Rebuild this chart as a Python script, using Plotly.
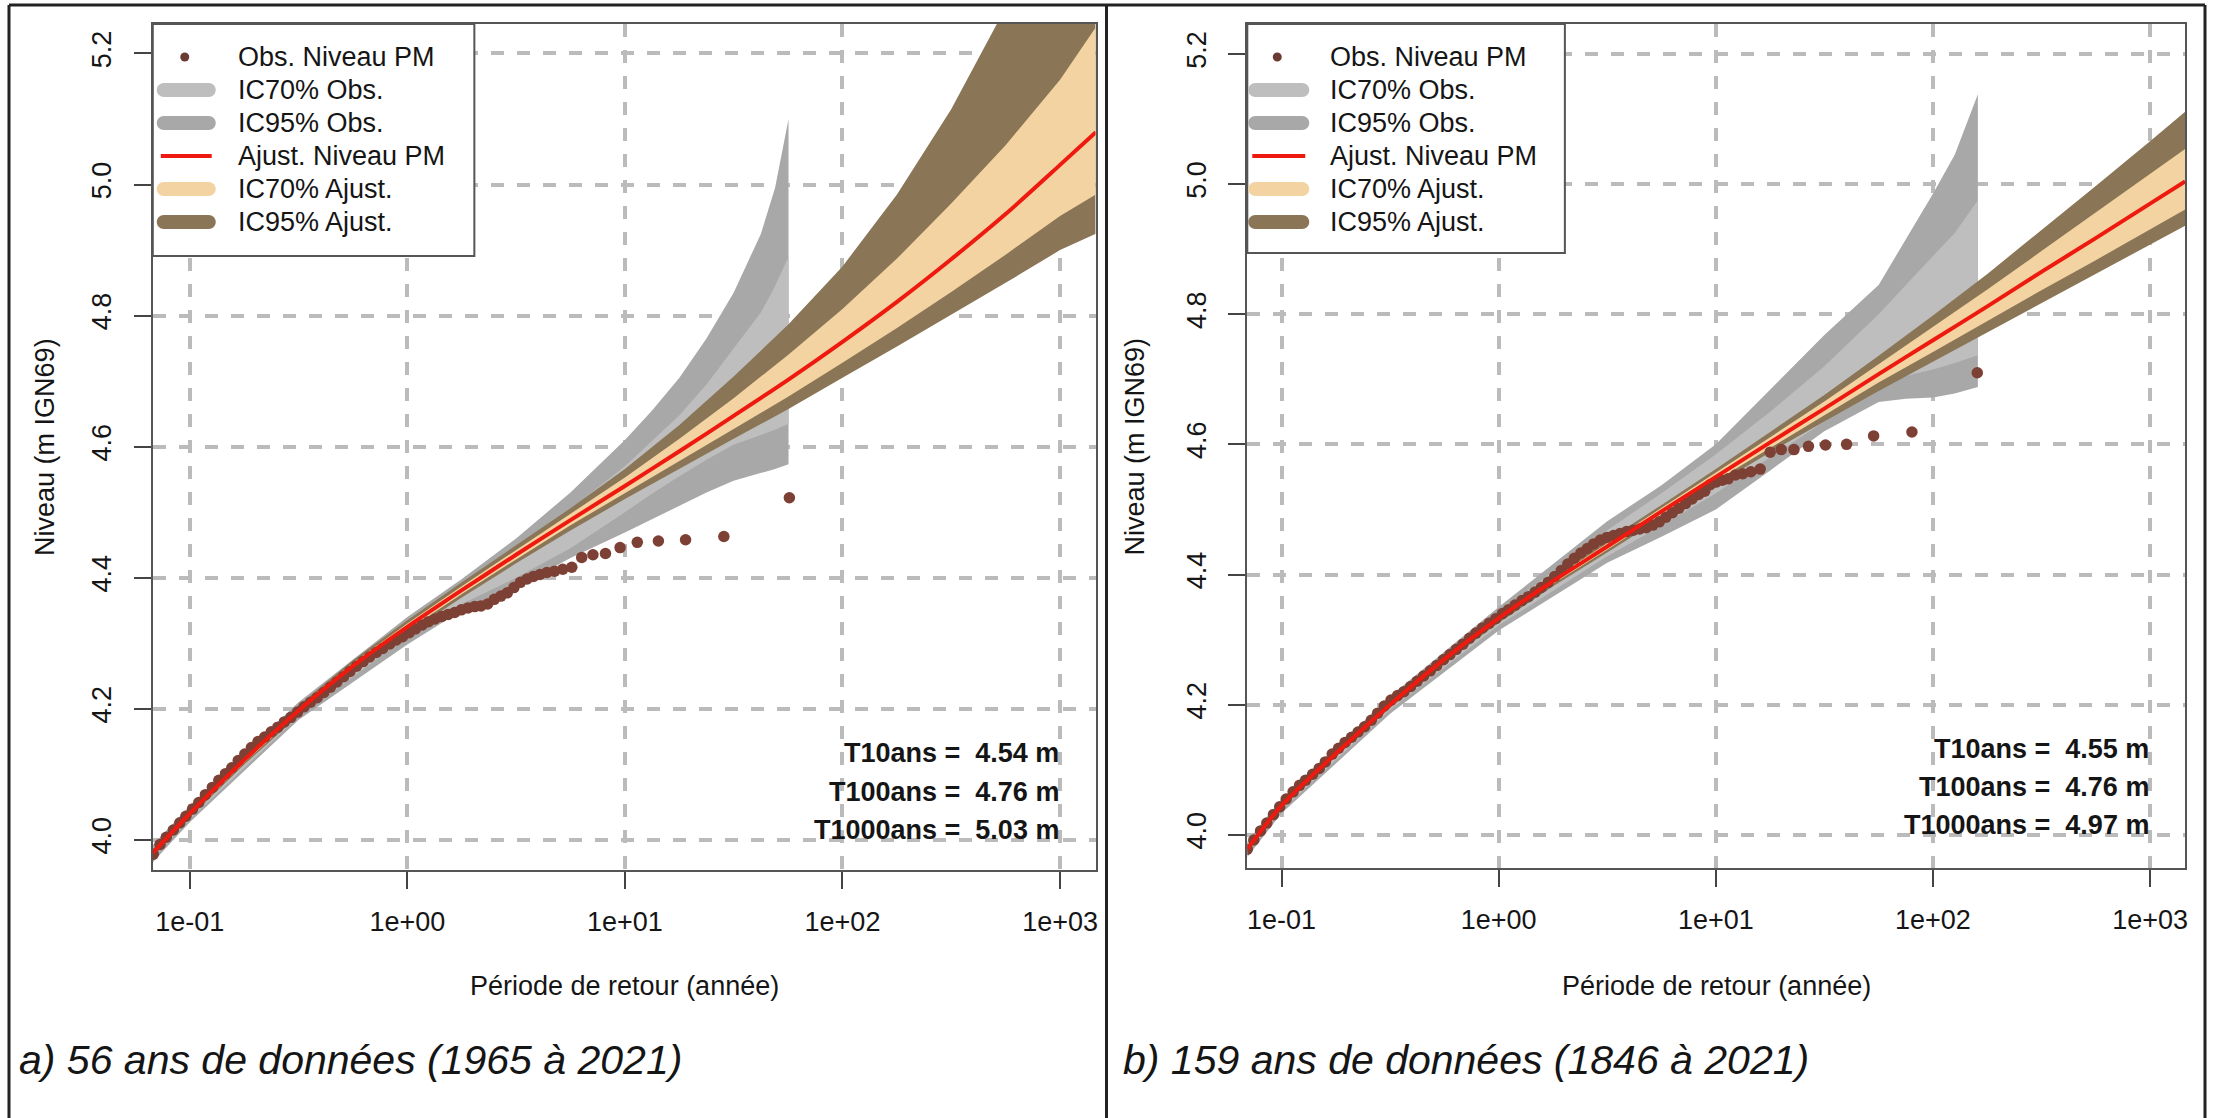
import plotly.graph_objects as go

W, H = 2214, 1118
FONT = "Liberation Sans, Arial, Helvetica, sans-serif"

# ---------------------------------------------------------------- axes
period_ticks = [0.1, 1, 10, 100, 1000]
period_tick_text = ["1e-01", "1e+00", "1e+01", "1e+02", "1e+03"]
level_ticks = [4.0, 4.2, 4.4, 4.6, 4.8, 5.0, 5.2]
level_tick_text = ["4.0", "4.2", "4.4", "4.6", "4.8", "5.0", "5.2"]

legend_labels = ["Obs. Niveau PM", "IC70% Obs.", "IC95% Obs.",
                 "Ajust. Niveau PM", "IC70% Ajust.", "IC95% Ajust."]
return_periods = [10, 100, 1000]

# ------------------------------------------- a) 56 ans (1965 a 2021)
a_obs_period = [
    0.068, 0.073, 0.078, 0.084, 0.090, 0.096, 0.103, 0.110, 0.118, 0.127,
    0.136, 0.146, 0.156, 0.167, 0.179, 0.192, 0.206, 0.221, 0.237, 0.254,
    0.272, 0.292, 0.313, 0.335, 0.359, 0.385, 0.413, 0.443, 0.475, 0.509,
    0.545, 0.584, 0.626, 0.671, 0.72, 0.77, 0.83, 0.89, 0.95, 1.02,
    1.09, 1.17, 1.25, 1.34, 1.44, 1.54, 1.65, 1.77, 1.90, 2.04,
    2.18, 2.34, 2.51, 2.69, 2.88, 3.09, 3.31, 3.55, 3.80, 4.07,
    4.38, 4.75, 5.18, 5.70, 6.33, 7.13, 8.14, 9.50, 11.4, 14.25,
    19.0, 28.5, 57.0]
a_obs_level = [
    3.978, 3.993, 4.004, 4.015, 4.026, 4.036, 4.047, 4.057, 4.069, 4.080,
    4.091, 4.101, 4.110, 4.121, 4.131, 4.141, 4.150, 4.157, 4.165, 4.172,
    4.180, 4.187, 4.195, 4.203, 4.210, 4.217, 4.225, 4.233, 4.241, 4.249,
    4.257, 4.265, 4.272, 4.279, 4.286, 4.292, 4.299, 4.305, 4.310, 4.316,
    4.322, 4.328, 4.333, 4.337, 4.341, 4.344, 4.347, 4.351, 4.354, 4.356,
    4.357, 4.360, 4.367, 4.372, 4.377, 4.385, 4.393, 4.398, 4.402, 4.405,
    4.408, 4.410, 4.413, 4.416, 4.431, 4.435, 4.437, 4.446, 4.454, 4.456,
    4.458, 4.463, 4.522]

a_fit_period = [0.0676, 0.1, 0.178, 0.316, 0.562, 1, 1.78, 3.16, 5.62, 10,
                17.8, 31.6, 56.2, 100, 178, 316, 562, 1000, 1460]
a_fit_level = [3.980, 4.040, 4.122, 4.197, 4.265, 4.325, 4.381, 4.435, 4.488, 4.540,
               4.593, 4.647, 4.702, 4.760, 4.821, 4.886, 4.955, 5.030, 5.080]
a_fit95_hi = [3.986, 4.046, 4.129, 4.205, 4.274, 4.335, 4.393, 4.449, 4.506, 4.566,
              4.633, 4.707, 4.786, 4.875, 4.985, 5.115, 5.270, 5.440, 5.560]
a_fit95_lo = [3.974, 4.034, 4.115, 4.189, 4.256, 4.315, 4.370, 4.422, 4.472, 4.520,
              4.566, 4.612, 4.657, 4.705, 4.753, 4.801, 4.850, 4.900, 4.925]
a_fit70_hi = [3.983, 4.043, 4.126, 4.201, 4.270, 4.330, 4.387, 4.442, 4.497, 4.553,
              4.612, 4.674, 4.740, 4.810, 4.887, 4.971, 5.060, 5.160, 5.240]
a_fit70_lo = [3.977, 4.037, 4.118, 4.193, 4.260, 4.320, 4.375, 4.428, 4.480, 4.529,
              4.578, 4.627, 4.676, 4.728, 4.781, 4.836, 4.893, 4.952, 4.985]

a_ci_period = [0.0676, 0.1, 0.316, 1, 1.78, 3.16, 5.62, 10, 13.3, 17.8, 23.7,
               31.6, 42.2, 49.0, 56.5]
a_obs95_hi = [3.992, 4.052, 4.210, 4.340, 4.398, 4.460, 4.530, 4.610, 4.655, 4.705,
              4.765, 4.835, 4.925, 4.995, 5.100]
a_obs70_hi = [3.987, 4.047, 4.205, 4.333, 4.390, 4.447, 4.505, 4.570, 4.608, 4.648,
              4.695, 4.750, 4.805, 4.845, 4.890]
a_obs70_lo = [3.972, 4.032, 4.188, 4.310, 4.360, 4.400, 4.445, 4.500, 4.528, 4.555,
              4.580, 4.603, 4.618, 4.626, 4.635]
a_obs95_lo = [3.966, 4.027, 4.183, 4.298, 4.350, 4.385, 4.430, 4.469, 4.490, 4.510,
              4.530, 4.548, 4.560, 4.566, 4.573]

a_return_levels = [4.54, 4.76, 5.03]
a_caption = "a) 56 ans de données (1965 à 2021)"

# ------------------------------------------ b) 159 ans (1846 a 2021)
b_obs_period = [
    0.0695, 0.0745, 0.080, 0.0855, 0.0917, 0.098, 0.105, 0.113, 0.121, 0.129,
    0.139, 0.149, 0.159, 0.171, 0.183, 0.196, 0.210, 0.225, 0.241, 0.259,
    0.277, 0.297, 0.319, 0.342, 0.366, 0.393, 0.421, 0.451, 0.484, 0.518,
    0.556, 0.596, 0.638, 0.684, 0.734, 0.786, 0.843, 0.904, 0.969, 1.04,
    1.11, 1.19, 1.28, 1.37, 1.47, 1.57, 1.69, 1.81, 1.94, 2.08,
    2.23, 2.39, 2.56, 2.74, 2.94, 3.15, 3.38, 3.62, 3.88, 4.16,
    4.46, 4.78, 5.12, 5.49, 5.89, 6.31, 6.76, 7.25, 7.77, 8.33,
    8.89, 9.41, 10.0, 10.7, 11.4, 12.3, 13.3, 14.5, 16.0, 17.8,
    20.0, 22.9, 26.7, 32.0, 40.0, 53.3, 80.0, 160.0]
b_obs_level = [
    3.978, 3.992, 4.006, 4.018, 4.031, 4.043, 4.055, 4.066, 4.076, 4.084,
    4.093, 4.102, 4.112, 4.124, 4.133, 4.142, 4.150, 4.158, 4.166, 4.176,
    4.187, 4.198, 4.207, 4.214, 4.220, 4.228, 4.236, 4.244, 4.252, 4.260,
    4.269, 4.277, 4.285, 4.293, 4.302, 4.310, 4.318, 4.325, 4.332, 4.340,
    4.346, 4.353, 4.360, 4.366, 4.373, 4.380, 4.388, 4.397, 4.406, 4.416,
    4.425, 4.433, 4.440, 4.447, 4.453, 4.457, 4.460, 4.463, 4.466, 4.468,
    4.470, 4.472, 4.476, 4.481, 4.488, 4.495, 4.502, 4.509, 4.516, 4.523,
    4.528, 4.538, 4.542, 4.545, 4.547, 4.553, 4.555, 4.558, 4.562, 4.588,
    4.592, 4.592, 4.597, 4.599, 4.600, 4.613, 4.619, 4.710]

b_fit_period = [0.0695, 0.1, 0.178, 0.316, 0.562, 1, 1.78, 3.16, 5.62, 10,
                17.8, 31.6, 56.2, 100, 178, 316, 562, 1000, 1450]
b_fit_level = [3.978, 4.045, 4.125, 4.200, 4.270, 4.333, 4.390, 4.443, 4.497, 4.550,
               4.603, 4.655, 4.708, 4.760, 4.812, 4.865, 4.917, 4.970, 5.004]
b_fit95_hi = [3.982, 4.049, 4.130, 4.205, 4.276, 4.340, 4.398, 4.452, 4.507, 4.562,
              4.619, 4.676, 4.736, 4.798, 4.862, 4.929, 4.997, 5.066, 5.111]
b_fit95_lo = [3.974, 4.041, 4.120, 4.195, 4.264, 4.326, 4.382, 4.434, 4.487, 4.538,
              4.588, 4.635, 4.682, 4.727, 4.772, 4.818, 4.862, 4.907, 4.936]
b_fit70_hi = [3.980, 4.047, 4.128, 4.203, 4.273, 4.337, 4.394, 4.448, 4.502, 4.556,
              4.611, 4.666, 4.723, 4.780, 4.838, 4.897, 4.956, 5.015, 5.054]
b_fit70_lo = [3.976, 4.043, 4.122, 4.197, 4.267, 4.329, 4.386, 4.438, 4.492, 4.544,
              4.595, 4.645, 4.695, 4.742, 4.789, 4.837, 4.883, 4.930, 4.961]

b_ci_period = [0.0695, 0.1, 0.316, 1, 3.16, 5.62, 10, 17.8, 31.6, 56.2, 75, 100, 126, 161]
b_obs95_hi = [3.990, 4.055, 4.213, 4.350, 4.482, 4.537, 4.600, 4.685, 4.768, 4.845,
              4.915, 4.985, 5.045, 5.138]
b_obs70_hi = [3.986, 4.050, 4.207, 4.342, 4.468, 4.525, 4.585, 4.650, 4.720, 4.800,
              4.845, 4.890, 4.925, 4.975]
b_obs70_lo = [3.971, 4.038, 4.192, 4.322, 4.428, 4.475, 4.525, 4.580, 4.635, 4.690,
              4.705, 4.715, 4.725, 4.737]
b_obs95_lo = [3.966, 4.033, 4.186, 4.314, 4.418, 4.458, 4.500, 4.560, 4.620, 4.665,
              4.670, 4.672, 4.678, 4.688]

b_return_levels = [4.55, 4.76, 4.97]
b_caption = "b) 159 ans de données (1846 à 2021)"

# ---------------------------------------------------------------- colours
C_OBS = "#7D4034"
C_OBS70 = "#BEBEBE"
C_OBS95 = "#A8A8A8"
C_FIT = "#EE1A10"
C_FIT70 = "#F3D3A1"
C_FIT95 = "#8A7656"
C_GRID = "#BBBBBB"
C_TEXT = "#151515"


def band(period, hi, lo, colour, xa, ya):
    """Closed polygon between an upper and a lower bound."""
    return go.Scatter(x=list(period) + list(period)[::-1],
                      y=list(hi) + list(lo)[::-1],
                      mode="lines", fill="toself", fillcolor=colour,
                      line=dict(width=0, color=colour),
                      hoverinfo="skip", showlegend=False,
                      xaxis=xa, yaxis=ya)


def panel_traces(d, xa, ya):
    return [
        band(d["ci_period"], d["obs95_hi"], d["obs95_lo"], C_OBS95, xa, ya),
        band(d["ci_period"], d["obs70_hi"], d["obs70_lo"], C_OBS70, xa, ya),
        band(d["fit_period"], d["fit95_hi"], d["fit95_lo"], C_FIT95, xa, ya),
        band(d["fit_period"], d["fit70_hi"], d["fit70_lo"], C_FIT70, xa, ya),
        go.Scatter(x=d["obs_period"], y=d["obs_level"], mode="markers",
                   marker=dict(size=11.5, color=C_OBS, line=dict(width=0)),
                   showlegend=False, xaxis=xa, yaxis=ya),
        go.Scatter(x=d["fit_period"], y=d["fit_level"], mode="lines",
                   line=dict(color=C_FIT, width=4, shape="spline", smoothing=0.8),
                   showlegend=False, xaxis=xa, yaxis=ya),
    ]


panel_a = dict(obs_period=a_obs_period, obs_level=a_obs_level,
               fit_period=a_fit_period, fit_level=a_fit_level,
               fit95_hi=a_fit95_hi, fit95_lo=a_fit95_lo,
               fit70_hi=a_fit70_hi, fit70_lo=a_fit70_lo,
               ci_period=a_ci_period, obs95_hi=a_obs95_hi, obs95_lo=a_obs95_lo,
               obs70_hi=a_obs70_hi, obs70_lo=a_obs70_lo)
panel_b = dict(obs_period=b_obs_period, obs_level=b_obs_level,
               fit_period=b_fit_period, fit_level=b_fit_level,
               fit95_hi=b_fit95_hi, fit95_lo=b_fit95_lo,
               fit70_hi=b_fit70_hi, fit70_lo=b_fit70_lo,
               ci_period=b_ci_period, obs95_hi=b_obs95_hi, obs95_lo=b_obs95_lo,
               obs70_hi=b_obs70_hi, obs70_lo=b_obs70_lo)

fig = go.Figure(panel_traces(panel_a, "x", "y") + panel_traces(panel_b, "x2", "y2"))


def px(x):
    return x / W


def py(y):
    return 1 - y / H


# plot boxes in pixels: (left, right, top, bottom) and axis ranges
boxes = {
    "a": dict(l=153, r=1097, t=24, b=870, xr=[-1.170, 3.163], yr=[3.954, 5.245]),
    "b": dict(l=1249, r=2188, t=24, b=868, xr=[-1.158, 3.161], yr=[3.949, 5.246]),
}


def xaxis_cfg(bx, anchor):
    return dict(type="log", range=bx["xr"], domain=[px(bx["l"]), px(bx["r"])],
                anchor=anchor, tickvals=period_ticks, ticktext=period_tick_text,
                ticks="outside", ticklen=17, tickwidth=2, tickcolor="#444",
                ticklabelstandoff=10,
                tickfont=dict(size=27, color=C_TEXT, family=FONT),
                showgrid=True, gridcolor=C_GRID, gridwidth=4, griddash="13px,13px",
                showline=True, linecolor="#555", linewidth=2, mirror=True,
                zeroline=False, layer="above traces", fixedrange=True)


def yaxis_cfg(bx, anchor):
    return dict(range=bx["yr"], domain=[py(bx["b"]), py(bx["t"])],
                anchor=anchor, tickvals=level_ticks, ticktext=level_tick_text,
                tickangle=-90, ticks="outside", ticklen=17, tickwidth=2,
                tickcolor="#444", ticklabelstandoff=12,
                tickfont=dict(size=27, color=C_TEXT, family=FONT),
                showgrid=True, gridcolor=C_GRID, gridwidth=4, griddash="13px,13px",
                showline=True, linecolor="#555", linewidth=2, mirror=True,
                zeroline=False, layer="above traces", fixedrange=True)


shapes = []
annotations = []


def stadium_path(x0, x1, yc, r):
    """Rounded thick legend stroke, built from cubic Beziers (pixel input)."""
    k = 0.5523 * r
    pts = [("M", [(x0, yc - r)]), ("L", [(x1, yc - r)]),
           ("C", [(x1 + k, yc - r), (x1 + r, yc - k), (x1 + r, yc)]),
           ("C", [(x1 + r, yc + k), (x1 + k, yc + r), (x1, yc + r)]),
           ("L", [(x0, yc + r)]),
           ("C", [(x0 - k, yc + r), (x0 - r, yc + k), (x0 - r, yc)]),
           ("C", [(x0 - r, yc - k), (x0 - k, yc - r), (x0, yc - r)])]
    out = []
    for cmd, ps in pts:
        out.append(cmd + " ".join(f"{px(a):.6f},{py(b):.6f}" for a, b in ps))
    return " ".join(out) + " Z"


def add_legend(box_l, box_r, box_t, box_b, sym_l, sym_r, text_x):
    shapes.append(dict(type="rect", xref="paper", yref="paper",
                       x0=px(box_l), x1=px(box_r), y0=py(box_b), y1=py(box_t),
                       fillcolor="white", line=dict(color="#555", width=2),
                       layer="above"))
    rows = [57, 90, 123, 156, 189, 222]
    r = 7
    band_colours = {1: C_OBS70, 2: C_OBS95, 4: C_FIT70, 5: C_FIT95}
    for i, (label, yc) in enumerate(zip(legend_labels, rows)):
        if i == 0:
            cx = (sym_l + sym_r) / 2 - 1.5
            shapes.append(dict(type="circle", xref="paper", yref="paper",
                               x0=px(cx - 4.5), x1=px(cx + 4.5),
                               y0=py(yc + 4.5), y1=py(yc - 4.5),
                               fillcolor="#6A3A33", line=dict(width=0),
                               layer="above"))
        elif i == 3:
            shapes.append(dict(type="line", xref="paper", yref="paper",
                               x0=px(sym_l + 4), x1=px(sym_r - 4),
                               y0=py(yc), y1=py(yc),
                               line=dict(color=C_FIT, width=4), layer="above"))
        else:
            shapes.append(dict(type="path", xref="paper", yref="paper",
                               path=stadium_path(sym_l + r, sym_r - r, yc, r),
                               fillcolor=band_colours[i], line=dict(width=0),
                               layer="above"))
        annotations.append(dict(text=label, xref="paper", yref="paper",
                                x=px(text_x), y=py(yc), xanchor="left",
                                yanchor="middle", showarrow=False,
                                font=dict(size=27, color=C_TEXT, family=FONT)))


add_legend(153, 475, 24, 256, 157, 216, 236)
add_legend(1249, 1567, 24, 253, 1250, 1311, 1330)

# return-level summary, right aligned on the 1e+03 grid line
for levels, xref, yref in [(a_return_levels, "x", "y"), (b_return_levels, "x2", "y2")]:
    for T, lvl, ypos in zip(return_periods, levels, [4.132, 4.073, 4.015]):
        annotations.append(dict(text=f"<b>T{T}ans = \u00a0{lvl:.2f} m</b>",
                                xref=xref, yref=yref, x=3, y=ypos,
                                xanchor="right", yanchor="middle", showarrow=False,
                                borderpad=0,
                                font=dict(size=27, color=C_TEXT, family=FONT)))

# axis titles and panel captions
for key, ylab_x, cap_x, caption in [("a", 45, 17, a_caption), ("b", 1137, 1123, b_caption)]:
    bx = boxes[key]
    annotations.append(dict(text="Période de retour (année)", xref="paper", yref="paper",
                            x=px((bx["l"] + bx["r"]) / 2), y=py(986),
                            xanchor="center", yanchor="middle", showarrow=False,
                            font=dict(size=27, color=C_TEXT, family=FONT)))
    annotations.append(dict(text="Niveau (m IGN69)", xref="paper", yref="paper",
                            x=px(ylab_x), y=py((bx["t"] + bx["b"]) / 2),
                            xanchor="center", yanchor="middle", textangle=-90,
                            showarrow=False,
                            font=dict(size=27, color=C_TEXT, family=FONT)))
    annotations.append(dict(text=f"<i>{caption}</i>", xref="paper", yref="paper",
                            x=px(cap_x), y=py(1060), xanchor="left", yanchor="middle",
                            showarrow=False,
                            font=dict(size=41, color=C_TEXT, family=FONT)))

# outer panel frame
for x0, y0, x1, y1 in [(9, 5, 2208, 5), (9, 5, 9, 1118), (1108, 5, 1108, 1118),
                       (2208, 5, 2208, 1118)]:
    shapes.append(dict(type="line", xref="paper", yref="paper",
                       x0=px(x0), y0=py(y0), x1=px(x1), y1=py(y1),
                       line=dict(color="#222", width=3), layer="above"))

fig.update_layout(
    width=W, height=H, autosize=False,
    margin=dict(l=0, r=0, t=0, b=0),
    paper_bgcolor="white", plot_bgcolor="white",
    font=dict(family=FONT, color=C_TEXT),
    showlegend=False,
    xaxis=xaxis_cfg(boxes["a"], "y"),
    yaxis=yaxis_cfg(boxes["a"], "x"),
    xaxis2=xaxis_cfg(boxes["b"], "y2"),
    yaxis2=yaxis_cfg(boxes["b"], "x2"),
    shapes=shapes,
    annotations=annotations,
)

fig.write_html("out.html")
